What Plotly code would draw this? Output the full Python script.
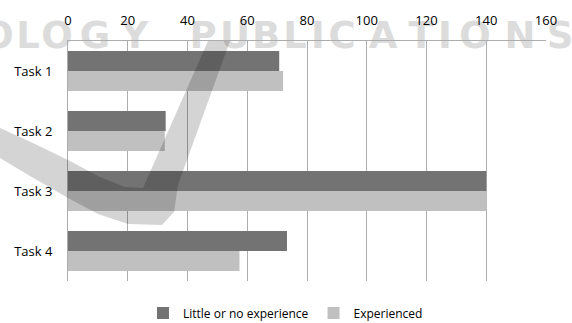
import plotly.graph_objects as go

# Task completion data
tasks = ["Task 1", "Task 2", "Task 3", "Task 4"]
little_or_no = [70.7, 32.7, 140.0, 73.3]
experienced = [72.0, 32.4, 140.2, 57.4]
x_ticks = [0, 20, 40, 60, 80, 100, 120, 140, 160]

FONT = "Open Sans"
DARK = "#737373"
LIGHT = "#c0c0c0"
GRID = "#adadad"

# Figure geometry (pixels)
FIG_W, FIG_H = 572, 323
M_L, M_R, M_T, M_B = 68, 26, 41, 42
PW, PH = FIG_W - M_L - M_R, FIG_H - M_T - M_B


def px(x):
    return (x - M_L) / PW


def py(y):
    return (FIG_H - M_B - y) / PH


fig = go.Figure()
fig.add_trace(go.Bar(y=tasks, x=little_or_no, orientation="h",
                     name="Little or no experience", marker_color=DARK,
                     marker_line_width=0))
fig.add_trace(go.Bar(y=tasks, x=experienced, orientation="h",
                     name="Experienced", marker_color=LIGHT,
                     marker_line_width=0))

# Publisher watermark lettering, drawn underneath everything
wm_letters = list("OLOGYPUBLICATIONS")
wm_centers = [-2, 28, 57, 95, 135, 203, 235, 266, 295, 318, 342, 383,
              421, 445, 475, 520, 560]
shapes = []
for ch, cx in zip(wm_letters, wm_centers):
    shapes.append(dict(
        type="rect", xref="paper", yref="paper",
        x0=px(cx - 20), x1=px(cx + 20), y0=py(49), y1=py(15),
        line=dict(width=0), fillcolor="rgba(0,0,0,0)", layer="below",
        label=dict(text=ch, textposition="middle center",
                   font=dict(family="DejaVu Sans", size=37, weight="bold",
                             color="#dcdcdc")),
    ))

# Translucent check-mark swoosh over the bars
swoosh_pts = [
    (208, 41), (230, 41), (178, 185), (174, 212), (162, 225),
    (128, 224), (98, 214), (68, 198), (30, 176), (0, 158),
    (0, 128), (35, 144), (68, 160), (100, 177), (125, 187), (143, 188),
]
path = "M " + " L ".join(f"{px(x):.4f},{py(y):.4f}" for x, y in swoosh_pts) + " Z"
shapes.append(dict(type="path", xref="paper", yref="paper", path=path,
                   fillcolor="rgba(0,0,0,0.17)", line=dict(width=0),
                   layer="above"))

fig.update_layout(
    width=FIG_W, height=FIG_H,
    margin=dict(l=M_L, r=M_R, t=M_T, b=M_B, pad=0, autoexpand=False),
    paper_bgcolor="white", plot_bgcolor="rgba(0,0,0,0)",
    barmode="group", bargap=1 / 3, bargroupgap=0,
    font=dict(family=FONT, size=13, color="#000000"),
    showlegend=True,
    legend=dict(orientation="h", x=0.455, xanchor="center",
                y=py(313), yanchor="middle",
                font=dict(family=FONT, size=12, color="#000000"),
                bgcolor="rgba(0,0,0,0)", itemwidth=30),
    shapes=shapes,
)

fig.update_xaxes(
    side="top", range=[0, 160], tickvals=x_ticks,
    showgrid=True, gridcolor=GRID, gridwidth=1,
    showline=True, linecolor=GRID, linewidth=1,
    zeroline=False, ticks="", ticklabelstandoff=10,
    tickfont=dict(family=FONT, size=13),
)
fig.update_yaxes(
    autorange="reversed", showgrid=False,
    showline=True, linecolor=GRID, linewidth=1,
    ticks="", ticklabelstandoff=12,
    tickfont=dict(family=FONT, size=13),
)

fig.write_html("out.html")
